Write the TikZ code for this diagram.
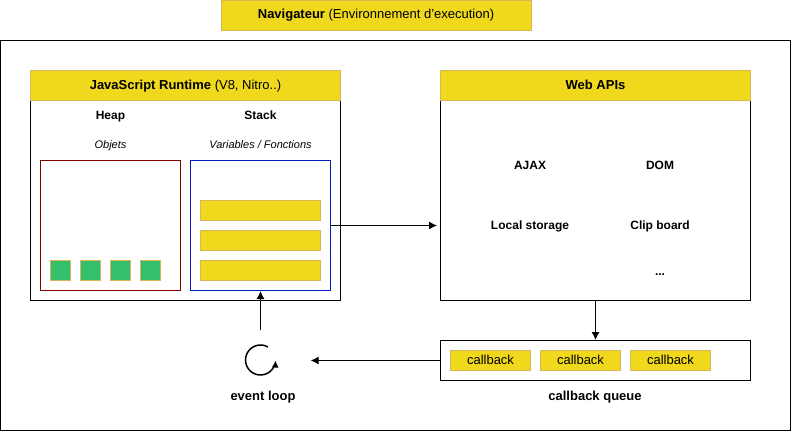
\documentclass[tikz,border=0pt]{standalone}
\usepackage{fontspec}
\setmainfont{Liberation Sans}
\usetikzlibrary{arrows.meta}
\definecolor{jaune}{HTML}{F0D81C}
\definecolor{jauneb}{HTML}{D6B656}
\definecolor{vert}{HTML}{33BF6B}
\definecolor{rouge}{HTML}{800000}
\definecolor{bleu}{HTML}{001DBC}
\tikzset{
  bloc/.style={draw=black, line width=1pt, fill=white, inner sep=0pt},
  titre/.style={draw=jauneb, line width=1pt, fill=jaune, inner sep=0pt, text=black, text height=9.5pt, text depth=2.5pt, font=\fontsize{13}{15}\selectfont},
  vide/.style={inner sep=0pt, text height=9pt, text depth=2.5pt, font=\fontsize{12}{14}\selectfont\bfseries},
  legende/.style={inner sep=0pt, text height=9.5pt, text depth=2.5pt, font=\fontsize{13}{15}\selectfont\bfseries},
  note/.style={inner sep=0pt, text height=8pt, text depth=2pt, font=\fontsize{11}{13}\selectfont\itshape},
  fleche/.style={-{Latex[length=8pt, width=8pt]}, line width=1pt},
}
\begin{document}
\begin{tikzpicture}[x=1pt, y=-1pt]

\useasboundingbox (0, 0) rectangle (791, 431);

\node[bloc, minimum width=790pt, minimum height=390pt] (navigateur) at (395.5, 235.5) {}; %cadre
\node[titre, minimum width=310pt, minimum height=30pt] (titrenav) at (376, 15) {\textbf{Navigateur} (Environnement d'execution)};

\node[bloc, minimum width=310pt, minimum height=230pt] (runtime) at (185.5, 185.5) {}; %runtime
\node[titre, minimum width=310pt, minimum height=30pt] (titrejs) at (185.5, 85.5) {\textbf{JavaScript Runtime} (V8, Nitro..)};

\node[vide] (heap) at (110.5, 116) {Heap};
\node[vide] (stack) at (260.5, 116) {Stack};
\node[note] (objets) at (110.5, 145.5) {Objets};
\node[note] (variables) at (260.5, 145.5) {Variables / Fonctions};

\node[bloc, draw=rouge, minimum width=140pt, minimum height=130pt] (boxheap) at (110.5, 225.5) {};
\node[bloc, draw=bleu, minimum width=140pt, minimum height=130pt] (boxstack) at (260.5, 225.5) {};

\foreach \y/\n in {210.5/a, 240.5/b, 270.5/c}
  \node[titre, minimum width=120pt, minimum height=20pt] (pile\n) at (260.5, \y) {};

\foreach \x/\n in {60.5/a, 90.5/b, 120.5/c, 150.5/d}
  \node[titre, fill=vert, minimum width=20pt, minimum height=20pt] (objet\n) at (\x, 270.5) {};

\node[bloc, minimum width=310pt, minimum height=230pt] (webapis) at (595.5, 185.5) {}; %web apis
\node[titre, minimum width=310pt, minimum height=30pt] (titreweb) at (595.5, 85.5) {\textbf{Web APIs}};

\node[vide] (ajax) at (530, 166) {AJAX};
\node[vide] (dom) at (660, 166) {DOM};
\node[vide] (local) at (530, 226) {Local storage};
\node[vide] (clip) at (660, 226) {Clip board};
\node[vide] (etc) at (660, 272) {...};

\node[bloc, minimum width=310pt, minimum height=40pt] (queue) at (595.5, 360.5) {}; %callback queue
\foreach \x/\n in {490.5/a, 580.5/b, 670.5/c}
  \node[titre, minimum width=80pt, minimum height=20pt] (callback\n) at (\x, 360.5) {callback};
\node[legende] (labelqueue) at (595, 397) {callback queue};

\node[minimum width=100pt, minimum height=60pt, inner sep=0pt] (boucle) at (260.5, 360.5) {}; %event loop
\draw[line width=1.5pt, -{Latex[length=7pt, width=7pt]}] (268, 347) arc[start angle=60, end angle=358, radius=15pt];
\node[legende] (labelboucle) at (263, 397) {event loop};

\draw[fleche, shorten >=3pt] (boxstack.east) -- (boxstack.east -| webapis.west);
\draw[fleche] (webapis.south) -- (queue.north);
\draw[fleche] (queue.west) -- (boucle.east);
\draw[fleche] (boucle.north) -- (boxstack.south);

\end{tikzpicture}
\end{document}
